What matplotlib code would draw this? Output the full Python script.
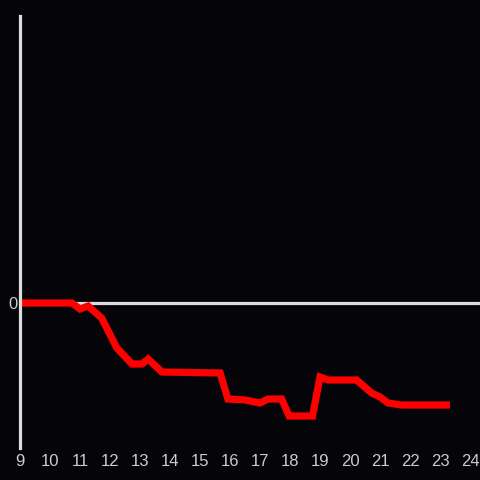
import matplotlib
matplotlib.use('Agg')
import matplotlib.pyplot as plt

# Hour of day and level (zero = baseline)
hours = [9.0, 10.73, 11.0, 11.27, 11.72, 12.23, 12.73, 13.07, 13.27, 13.73,
         15.67, 15.93, 16.5, 17.0, 17.27, 17.72, 17.97, 18.75, 19.0, 19.27,
         20.22, 20.72, 21.0, 21.27, 21.72, 23.33]
values = [0, 0, -6, -3, -15, -45, -61, -61, -56, -69,
          -70, -96, -97, -100, -96, -96, -113, -113, -74, -77,
          -77, -90, -94, -100, -102, -102]
xticks = list(range(9, 25))

plt.rcParams['font.family'] = ['Liberation Sans', 'DejaVu Sans']

bg = '#050408'
fig = plt.figure(figsize=(4.8, 4.8), dpi=100, facecolor=bg)
ax = fig.add_axes([20 / 480, 32 / 480, 460 / 480, 432 / 480], facecolor=bg)

ax.axhline(0, color='#dddddd', lw=2.3, zorder=2)
ax.plot(hours, values, color='#ff0000', lw=5.2, solid_joinstyle='miter',
        solid_capstyle='butt', zorder=4, clip_on=False)

ax.set_xlim(9, 24.333)
ax.set_ylim(-145, 287)
ax.set_xticks(xticks)
ax.set_yticks([0])
ax.tick_params(length=0, colors='#cccccc', labelsize=12)
ax.tick_params(axis='x', pad=4)
ax.tick_params(axis='y', pad=2)
for lab in ax.get_yticklabels():
    lab.set_va('center_baseline')

for side in ['top', 'right', 'bottom']:
    ax.spines[side].set_visible(False)
ax.spines['left'].set_color('#dddddd')
ax.spines['left'].set_linewidth(2.3)
ax.spines['left'].set_zorder(5)

fig.savefig('out.png', dpi=100, facecolor=bg)
